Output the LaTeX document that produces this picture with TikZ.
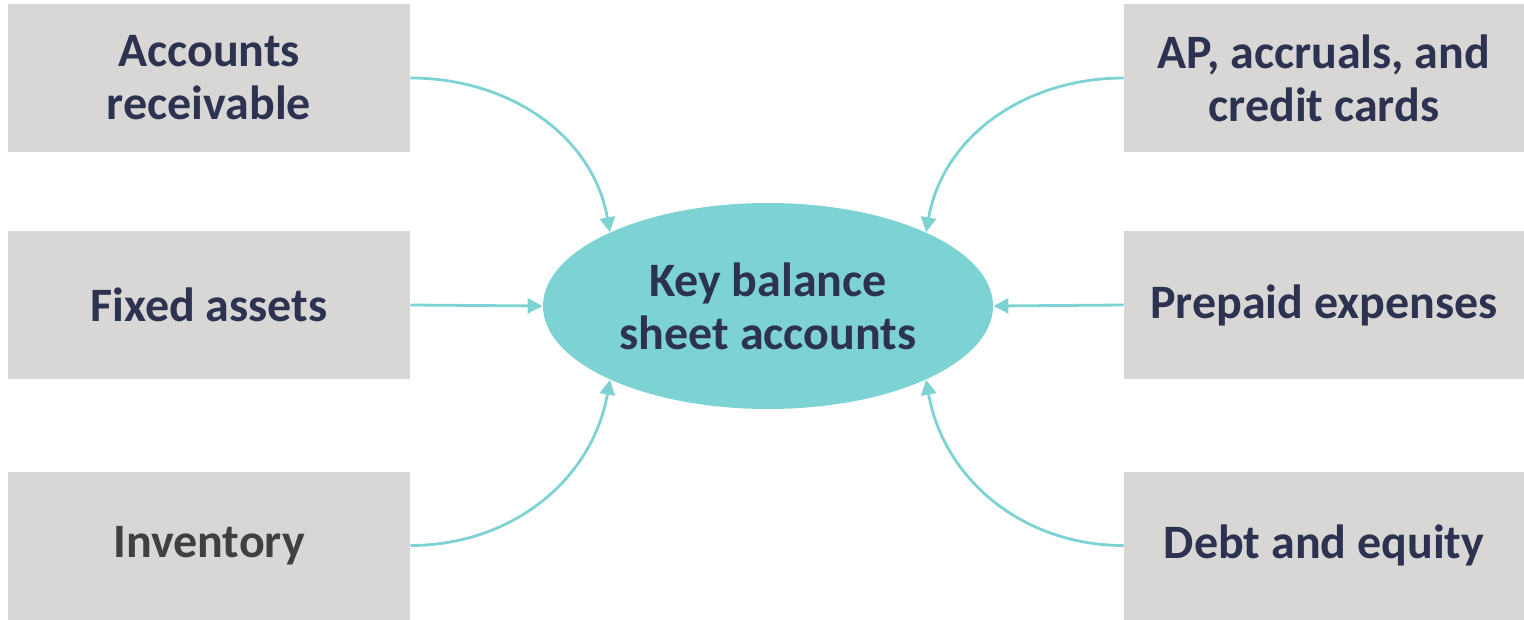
\documentclass[tikz,border=0pt]{standalone}
\usepackage{fontspec}
\setmainfont{Carlito}
\usepackage{xcolor}
\usetikzlibrary{arrows.meta,shapes.geometric}

\definecolor{tealhub}{HTML}{7DD3D3}
\definecolor{boxgrey}{HTML}{D9D7D6}
\definecolor{navytext}{HTML}{2C3250}
\definecolor{darkgreytext}{HTML}{404040}

\tikzset{
  acct/.style={fill=boxgrey, minimum width=201pt, minimum height=74pt, inner sep=0pt,
    align=center, text=navytext, font=\fontsize{24}{26.5}\selectfont\bfseries},
  hub/.style={ellipse, fill=tealhub, minimum width=225pt, minimum height=103pt, inner sep=0pt,
    align=center, text=navytext, font=\fontsize{24}{26.5}\selectfont\bfseries},
  feed/.style={draw=tealhub, line width=1.4pt, -{Triangle[width=7.5pt,length=7.5pt]}}
}

\begin{document}
\begin{tikzpicture}[x=0.5pt, y=-0.5pt]
        \useasboundingbox (0,0) rectangle (1524,620);

        % Centrala
        \node[hub] (key) at (768,306) {Key balance\\sheet accounts};

        % Aktywa (lewa strona)
        \node[acct] (ar) at (209,78) {Accounts\\receivable};
        \node[acct] (fixed) at (209,305) {Fixed assets};
        \node[acct, text=darkgreytext] (inv) at (209,545.5) {Inventory};

        % Pasywa (prawa strona)
        \node[acct, minimum width=200pt] (ap) at (1324,78) {AP, accruals, and\\credit cards};
        \node[acct, minimum width=200pt] (prepaid) at (1324,305) {Prepaid expenses};
        \node[acct, minimum width=200pt] (debt) at (1324,545.5) {Debt and equity};

        % Strzałki do centrali
        \draw[feed] (ar.east) to[out=0, in=100] (key.155);
        \draw[feed] (fixed.east) -- (key.west);
        \draw[feed] (inv.east) to[out=0, in=-100] (key.205);
        \draw[feed] (ap.west) to[out=180, in=80] (key.25);
        \draw[feed] (prepaid.west) -- (key.east);
        \draw[feed] (debt.west) to[out=180, in=-80] (key.335);
    \end{tikzpicture}
\end{document}
